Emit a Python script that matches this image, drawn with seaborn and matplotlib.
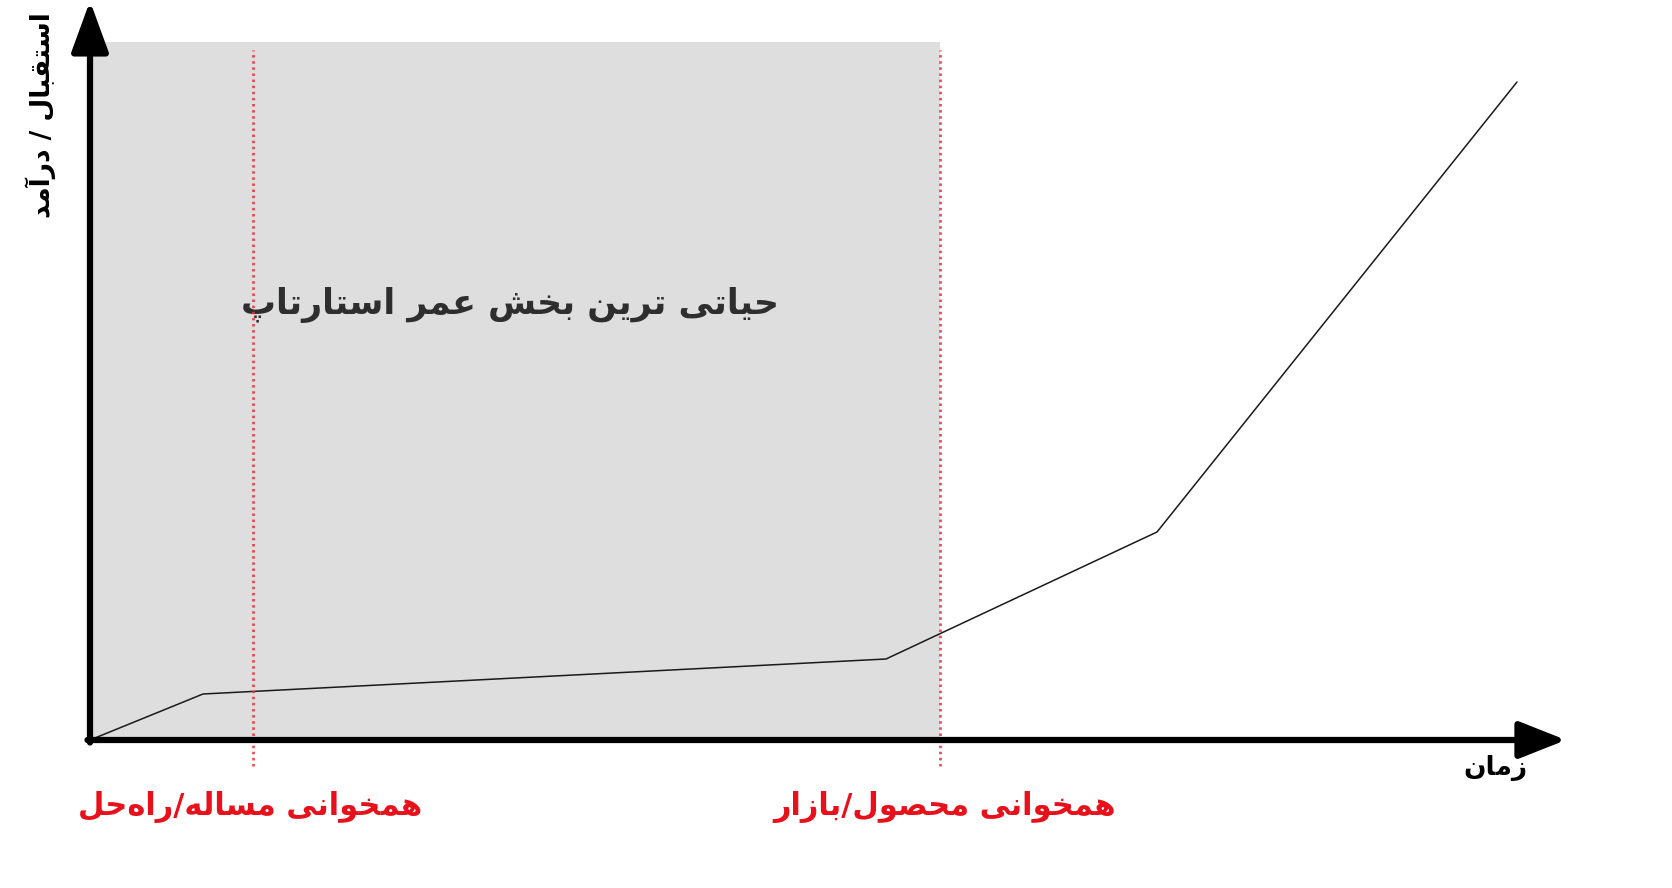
import matplotlib
matplotlib.use("Agg")
import matplotlib.pyplot as plt
import seaborn as sns
import pandas as pd

# ---- data ----
time_vals = [0.0, 11.3, 79.6, 106.7, 142.7]
revenue_vals = [0.0, 4.6, 8.1, 20.8, 65.8]
critical_span = [0.0, 85.0]      # shaded "most critical" period (time)
critical_top = 69.8
fit_points = [16.3, 85.0]        # problem/solution fit, product/market fit
fit_labels = ["همخوانی مساله/راه‌حل", "همخوانی محصول/بازار"]
y_label = "استقبال / درآمد"
x_label = "زمان"
region_label = "حیاتی ترین بخش عمر استارتاپ"

# ---- minimal Arabic/Persian shaping (matplotlib has no text shaping) ----
FORMS = {
    'ا': (0xFE8D, 0xFE8E), 'آ': (0xFE81, 0xFE82),
    'ب': (0xFE8F, 0xFE90, 0xFE91, 0xFE92), 'پ': (0xFB56, 0xFB57, 0xFB58, 0xFB59),
    'ت': (0xFE95, 0xFE96, 0xFE97, 0xFE98), 'ح': (0xFEA1, 0xFEA2, 0xFEA3, 0xFEA4),
    'خ': (0xFEA5, 0xFEA6, 0xFEA7, 0xFEA8), 'د': (0xFEA9, 0xFEAA),
    'ر': (0xFEAD, 0xFEAE), 'ز': (0xFEAF, 0xFEB0),
    'س': (0xFEB1, 0xFEB2, 0xFEB3, 0xFEB4), 'ش': (0xFEB5, 0xFEB6, 0xFEB7, 0xFEB8),
    'ص': (0xFEB9, 0xFEBA, 0xFEBB, 0xFEBC), 'ع': (0xFEC9, 0xFECA, 0xFECB, 0xFECC),
    'ق': (0xFED5, 0xFED6, 0xFED7, 0xFED8), 'ل': (0xFEDD, 0xFEDE, 0xFEDF, 0xFEE0),
    'م': (0xFEE1, 0xFEE2, 0xFEE3, 0xFEE4), 'ن': (0xFEE5, 0xFEE6, 0xFEE7, 0xFEE8),
    'ه': (0xFEE9, 0xFEEA, 0xFEEB, 0xFEEC), 'و': (0xFEED, 0xFEEE),
    'ی': (0xFBFC, 0xFBFD, 0xFBFE, 0xFBFF),
}


def shape(s):
    out = []
    for i, c in enumerate(s):
        if c not in FORMS:
            out.append(c)
            continue
        f = FORMS[c]
        prev = s[i - 1] if i > 0 else None
        nxt = s[i + 1] if i + 1 < len(s) else None
        jp = prev in FORMS and len(FORMS[prev]) == 4
        jn = len(f) == 4 and nxt in FORMS
        if jp and jn:
            code = f[3]
        elif jp:
            code = f[1]
        elif jn:
            code = f[2]
        else:
            code = f[0]
        out.append(chr(code))
    txt = ''.join(out).replace('\u200c', '')
    return txt[::-1]


sns.set_theme(style="white")
plt.rcParams['font.family'] = ['DejaVu Sans']

fig = plt.figure(figsize=(16.72, 8.88), dpi=100)
ax = fig.add_axes([0, 0, 1, 1])
ax.set_xlim(-9.0, 158.2)
ax.set_ylim(-14.8, 74.0)
ax.axis('off')

# shaded critical region
ax.fill_between(critical_span, 0, critical_top, color='#dedede', zorder=0, lw=0)

# line
df = pd.DataFrame({'time': time_vals, 'revenue': revenue_vals})
sns.lineplot(data=df, x='time', y='revenue', ax=ax, color='#1a1a1a', lw=1.1, zorder=3)

# fit markers (red dotted)
for xv in fit_points:
    ax.plot([xv, xv], [-2.6, 69.0], color='#e8303a', lw=2.0,
            ls=(0, (0.9, 1.3)), zorder=4, alpha=0.85)

# axes arrows
ax.annotate('', xy=(147.6, 0), xytext=(-0.25, 0), annotation_clip=False,
            arrowprops=dict(arrowstyle='-|>,head_length=2.4,head_width=0.95',
                            lw=4.5, color='black', shrinkA=0, shrinkB=0), zorder=5)
ax.annotate('', xy=(0, 73.9), xytext=(0, -0.25), annotation_clip=False,
            arrowprops=dict(arrowstyle='-|>,head_length=2.6,head_width=0.95',
                            lw=4.5, color='black', shrinkA=0, shrinkB=0), zorder=5)

# texts
ax.text(-4.9, 62.5, shape(y_label), rotation=90, ha='center', va='center',
        fontsize=19, fontweight='bold', color='black')
ax.text(140.5, -2.8, shape(x_label), ha='center', va='center',
        fontsize=19, fontweight='bold', color='black')
ax.text(42.0, 43.5, shape(region_label), ha='center', va='center',
        fontsize=25, fontweight='bold', color='#2e2e2e')
label_x = [16.0, 85.5]
for lx, lab in zip(label_x, fit_labels):
    ax.text(lx, -6.7, shape(lab), ha='center', va='center',
            fontsize=22, fontweight='bold', color='#e8101a')

fig.savefig('out.png', dpi=100)
